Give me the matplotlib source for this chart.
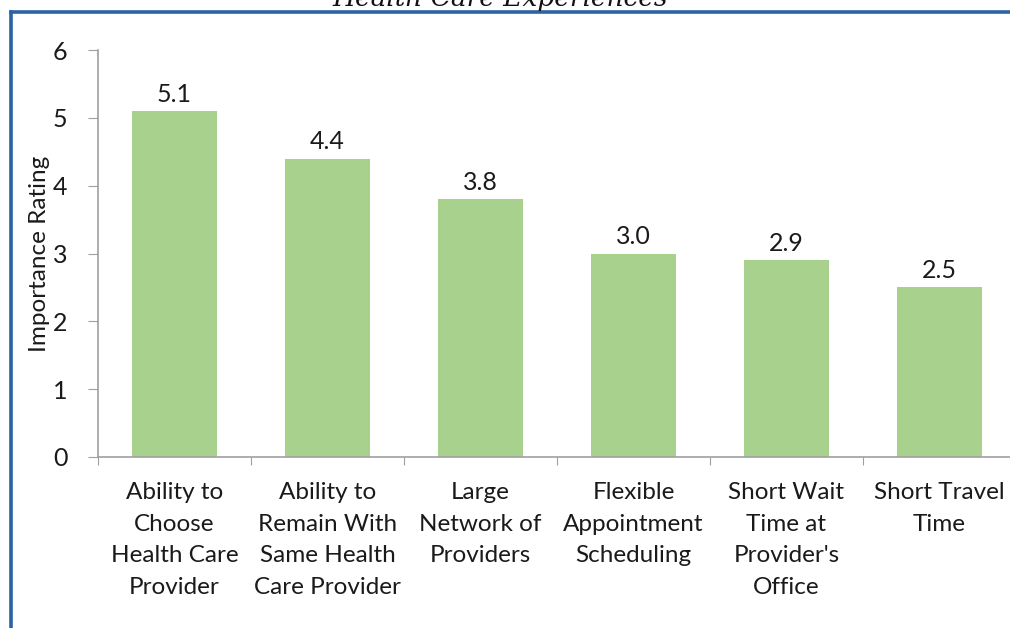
import matplotlib
matplotlib.use("Agg")
import matplotlib.pyplot as plt
from matplotlib.lines import Line2D
import numpy as np

categories = ["Ability to\nChoose\nHealth Care\nProvider",
              "Ability to\nRemain With\nSame Health\nCare Provider",
              "Large\nNetwork of\nProviders",
              "Flexible\nAppointment\nScheduling",
              "Short Wait\nTime at\nProvider's\nOffice",
              "Short Travel\nTime"]
values = [5.1, 4.4, 3.8, 3.0, 2.9, 2.5]
value_labels = ["5.1", "4.4", "3.8", "3.0", "2.9", "2.5"]
yticks = [0, 1, 2, 3, 4, 5, 6]

plt.rcParams['font.family'] = ['Lato', 'DejaVu Sans']

fig = plt.figure(figsize=(10.10, 6.28), dpi=100)
fig.patch.set_facecolor('white')
ax = fig.add_axes([98/1010, 1-457/628, 918/1010, 407/628])

x = np.arange(len(values))
ax.bar(x, values, width=0.55, color='#a9d18e', zorder=2)
for xi, v, lab in zip(x, values, value_labels):
    ax.text(xi, v + 0.08, lab, ha='center', va='bottom', fontsize=18, color='#1a1a1a')

ax.set_xlim(-0.5, len(values) - 0.5)
ax.set_ylim(0, 6)
ax.set_yticks(yticks)
ax.set_yticklabels([str(t) for t in yticks], fontsize=18, color='#1a1a1a')
ax.set_xticks(np.arange(-0.5, len(values), 1.0))
ax.set_xticklabels([])
ax.set_xticks(x, minor=True)
ax.set_xticklabels(categories, minor=True, fontsize=17.5, color='#1a1a1a', linespacing=1.62)
ax.tick_params(axis='x', which='minor', length=0, pad=18)
ax.tick_params(axis='x', which='major', length=6, color='#a0a0a0', direction='out')
ax.tick_params(axis='y', length=7, color='#a0a0a0', direction='out', pad=15)
for s in ['top', 'right']:
    ax.spines[s].set_visible(False)
for s in ['left', 'bottom']:
    ax.spines[s].set_color('#a0a0a0')
    ax.spines[s].set_linewidth(1.2)
ax.set_ylabel("Importance Rating", fontsize=17.5, color='#1a1a1a', labelpad=2)

# blue frame
fig.add_artist(Line2D([11/1010, 11/1010], [0, 1-12/628], color='#2a64a4', lw=2.6))
fig.add_artist(Line2D([11/1010, 1.0], [1-12/628, 1-12/628], color='#2a64a4', lw=2.6))

# title at top (partially cut off in the source image)
fig.text(500/1010, 1-6/628, "Health Care Experiences", ha='center', va='baseline',
         fontsize=19, style='italic', family='DejaVu Serif', color='#111111')

fig.savefig("out.png", dpi=100)
